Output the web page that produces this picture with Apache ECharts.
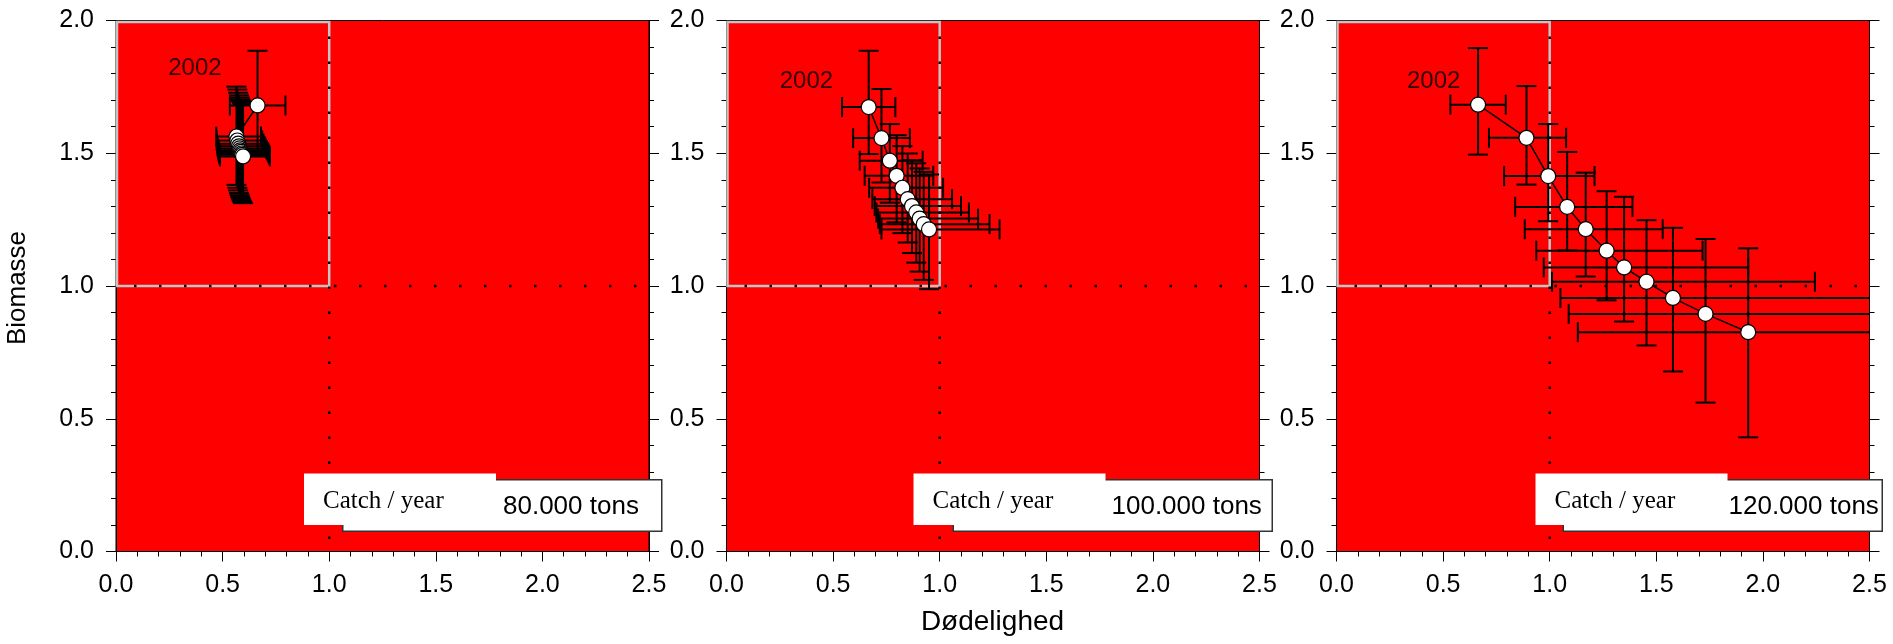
<!DOCTYPE html>
<html>
<head>
<meta charset="utf-8">
<script src="https://cdn.jsdelivr.net/npm/echarts@6/dist/echarts.min.js"></script>
<style>
html,body{margin:0;padding:0;background:#fff;}
#chart{width:1893px;height:644px;}
</style>
</head>
<body>
<div id="chart"></div>
<script>
// ---- data ----
const YEAR_LABEL = '2002';
const CATCH_LABEL = 'Catch / year';
const PANEL_LABELS = ['80.000 tons', '100.000 tons', '120.000 tons'];
const X_TITLE = 'Dødelighed';
const Y_TITLE = 'Biomasse';
const X_TICKS = [0.0, 0.5, 1.0, 1.5, 2.0, 2.5];
const Y_TICKS = [0.0, 0.5, 1.0, 1.5, 2.0];
const REF_F = 1.0;   // reference mortality
const REF_B = 1.0;   // reference biomass

// 80.000 tons
const F_80    = [0.664, 0.565, 0.569, 0.573, 0.577, 0.580, 0.583, 0.586, 0.589, 0.592, 0.596];
const B_80    = [1.680, 1.563, 1.548, 1.536, 1.526, 1.518, 1.511, 1.505, 1.499, 1.494, 1.488];
const F_80_LO = [0.534, 0.470, 0.472, 0.474, 0.476, 0.478, 0.480, 0.482, 0.484, 0.486, 0.488];
const F_80_HI = [0.795, 0.680, 0.686, 0.692, 0.698, 0.703, 0.708, 0.712, 0.716, 0.719, 0.722];
const B_80_LO = [1.495, 1.381, 1.370, 1.360, 1.350, 1.342, 1.335, 1.328, 1.322, 1.317, 1.312];
const B_80_HI = [1.886, 1.751, 1.740, 1.728, 1.718, 1.710, 1.703, 1.697, 1.692, 1.688, 1.684];

// 100.000 tons
const F_100    = [0.667, 0.727, 0.766, 0.798, 0.825, 0.850, 0.870, 0.890, 0.906, 0.925, 0.950];
const B_100    = [1.674, 1.557, 1.472, 1.415, 1.370, 1.327, 1.301, 1.277, 1.254, 1.233, 1.213];
const F_100_LO = [0.542, 0.594, 0.625, 0.648, 0.669, 0.684, 0.695, 0.703, 0.711, 0.719, 0.727];
const F_100_HI = [0.792, 0.860, 0.920, 0.970, 1.016, 1.058, 1.100, 1.137, 1.180, 1.234, 1.281];
const B_100_LO = [1.497, 1.390, 1.314, 1.240, 1.199, 1.164, 1.124, 1.088, 1.054, 1.023, 0.988];
const B_100_HI = [1.886, 1.742, 1.610, 1.568, 1.527, 1.499, 1.474, 1.462, 1.443, 1.430, 1.420];

// 120.000 tons
const F_120    = [0.664, 0.891, 0.993, 1.082, 1.169, 1.267, 1.349, 1.454, 1.578, 1.731, 1.931];
const B_120    = [1.683, 1.558, 1.414, 1.298, 1.214, 1.133, 1.070, 1.016, 0.955, 0.895, 0.826];
const F_120_LO = [0.534, 0.715, 0.786, 0.838, 0.883, 0.937, 0.972, 1.011, 1.050, 1.089, 1.132];
const F_120_HI = [0.794, 1.077, 1.210, 1.388, 1.530, 1.717, 1.931, 2.244, 2.700, 2.950, 3.300];
const B_120_LO = [1.495, 1.382, 1.244, 1.134, 1.036, 0.946, 0.866, 0.776, 0.678, 0.561, 0.430];
const B_120_HI = [1.896, 1.753, 1.610, 1.505, 1.427, 1.357, 1.336, 1.248, 1.219, 1.177, 1.142];

const PANELS = [
  {F: F_80,  B: B_80,  FLo: F_80_LO,  FHi: F_80_HI,  BLo: B_80_LO,  BHi: B_80_HI},
  {F: F_100, B: B_100, FLo: F_100_LO, FHi: F_100_HI, BLo: B_100_LO, BHi: B_100_HI},
  {F: F_120, B: B_120, FLo: F_120_LO, FHi: F_120_HI, BLo: B_120_LO, BHi: B_120_HI}
];

// ---- layout (pixels / positions, not data) ----
const GRID_LEFT = [116, 726.5, 1336.5];
const GRID_TOP = 20.5, GRID_W = 533, GRID_H = 531;
const YEAR_POS = [[0.37, 1.818], [0.375, 1.772], [0.456, 1.77]];
const WHITE_BOX_X = [188, 187, 199];
const VALUE_TEXT_X = [387, 385, 392];
const SANS = 'Liberation Sans, Arial, sans-serif';
const SERIF = 'Liberation Serif, Times New Roman, serif';

const chart = echarts.init(document.getElementById('chart'), null, {renderer: 'canvas'});

const grids = [], xAxes = [], yAxes = [], series = [], graphics = [];
const fmt = v => (Math.round(v * 10) / 10).toFixed(1);

PANELS.forEach((p, i) => {
  grids.push({left: GRID_LEFT[i], top: GRID_TOP, width: GRID_W, height: GRID_H,
    show: true, backgroundColor: '#ff0000', borderColor: '#000', borderWidth: 1});
  xAxes.push({gridIndex: i, type: 'value', min: X_TICKS[0], max: X_TICKS[X_TICKS.length - 1], interval: 0.5,
    axisLine: {show: true, onZero: false, lineStyle: {color: '#000', width: 1}},
    axisTick: {show: true, length: 10, lineStyle: {color: '#000', width: 1}},
    minorTick: {show: true, splitNumber: 5, length: 5, lineStyle: {color: '#000', width: 1}},
    splitLine: {show: false}, minorSplitLine: {show: false},
    axisLabel: {fontSize: 25, fontFamily: SANS, color: '#000', margin: 21, formatter: fmt}});
});
PANELS.forEach((p, i) => {
  yAxes.push({gridIndex: i, type: 'value', position: 'left', min: Y_TICKS[0], max: Y_TICKS[Y_TICKS.length - 1], interval: 0.5,
    axisLine: {show: true, onZero: false, lineStyle: {color: '#000', width: 1}},
    axisTick: {show: true, length: 10, lineStyle: {color: '#000', width: 1}},
    minorTick: {show: true, splitNumber: 5, length: 5, lineStyle: {color: '#000', width: 1}},
    splitLine: {show: false}, minorSplitLine: {show: false},
    axisLabel: {fontSize: 25, fontFamily: SANS, color: '#000', margin: 22, formatter: fmt}});
});
PANELS.forEach((p, i) => {
  yAxes.push({gridIndex: i, type: 'value', position: 'right', min: Y_TICKS[0], max: Y_TICKS[Y_TICKS.length - 1], interval: 0.5,
    axisLine: {show: true, onZero: false, lineStyle: {color: '#000', width: 1}},
    axisTick: {show: true, length: 10, lineStyle: {color: '#000', width: 1}},
    minorTick: {show: true, splitNumber: 5, length: 5, lineStyle: {color: '#000', width: 1}},
    splitLine: {show: false}, minorSplitLine: {show: false},
    axisLabel: {show: false}});
});

function renderRefs(params, api) {
  const cs = params.coordSys;
  const f = api.value(0), b = api.value(1);
  const p00 = api.coord([0, b]);
  const p1 = api.coord([f, Y_TICKS[Y_TICKS.length - 1]]);
  const pf = api.coord([f, b]);
  const gray = {stroke: '#c4c4c4', lineWidth: 2.5, fill: null};
  const dots = {stroke: '#000', lineWidth: 2.5, lineDash: [2.5, 22.5]};
  return {type: 'group', children: [
    {type: 'rect', shape: {x: p00[0] + 1, y: p1[1] + 1.5, width: pf[0] - p00[0] - 1, height: p00[1] - p1[1] - 1.5}, style: gray},
    {type: 'line', shape: {x1: cs.x + 18, y1: pf[1], x2: cs.x + cs.width, y2: pf[1]}, style: dots},
    {type: 'line', shape: {x1: pf[0], y1: cs.y + 16, x2: pf[0], y2: cs.y + cs.height}, style: dots}
  ]};
}

function renderErr(params, api) {
  const cs = params.coordSys;
  const x = api.value(0), y = api.value(1);
  const p = api.coord([x, y]);
  const xl = api.coord([api.value(2), y])[0], xh = api.coord([api.value(3), y])[0];
  const yl = api.coord([x, api.value(4)])[1], yh = api.coord([x, api.value(5)])[1];
  const xmin = cs.x, xmax = cs.x + cs.width;
  const cap = 10;
  const style = {stroke: '#000', lineWidth: 2};
  const L = (x1, y1, x2, y2) => ({type: 'line', shape: {x1, y1, x2, y2}, style});
  const ch = [];
  ch.push(L(Math.max(xl, xmin), p[1], Math.min(xh, xmax), p[1]));
  if (xl >= xmin) ch.push(L(xl, p[1] - cap, xl, p[1] + cap));
  if (xh <= xmax) ch.push(L(xh, p[1] - cap, xh, p[1] + cap));
  ch.push(L(p[0], yh, p[0], yl));
  ch.push(L(p[0] - cap, yh, p[0] + cap, yh));
  ch.push(L(p[0] - cap, yl, p[0] + cap, yl));
  return {type: 'group', children: ch};
}

PANELS.forEach((p, i) => {
  series.push({type: 'custom', xAxisIndex: i, yAxisIndex: i, renderItem: renderRefs,
    data: [[REF_F, REF_B]], silent: true, z: 1});
  series.push({type: 'custom', xAxisIndex: i, yAxisIndex: i, renderItem: renderErr,
    data: p.F.map((f, k) => [f, p.B[k], p.FLo[k], p.FHi[k], p.BLo[k], p.BHi[k]]),
    silent: true, z: 2});
  series.push({type: 'line', xAxisIndex: i, yAxisIndex: i,
    data: p.F.map((f, k) => [f, p.B[k]]),
    symbol: 'circle', symbolSize: 15, showAllSymbol: true,
    lineStyle: {color: '#000', width: 1.5},
    itemStyle: {color: '#fff', borderColor: '#000', borderWidth: 1.2},
    silent: true, z: 3, animation: false});
  series.push({type: 'scatter', xAxisIndex: i, yAxisIndex: i, data: [YEAR_POS[i]],
    symbolSize: 1, itemStyle: {color: 'rgba(0,0,0,0)'}, silent: true, z: 4,
    label: {show: true, position: 'inside', formatter: YEAR_LABEL, fontSize: 24, fontFamily: SANS, color: '#000'}});

  const gl = GRID_LEFT[i];
  graphics.push({type: 'rect', left: gl + 226, top: 479, shape: {width: 545 - 226, height: 51.5},
    style: {fill: '#fff', stroke: '#333', lineWidth: 1.5}, z: 100});
  graphics.push({type: 'rect', left: gl + WHITE_BOX_X[i], top: 473.5, shape: {width: 192, height: 51.5},
    style: {fill: '#fff'}, z: 101});
  graphics.push({type: 'text', x: gl + WHITE_BOX_X[i] + 19, y: 501, z: 102,
    style: {text: CATCH_LABEL, font: '25px ' + SERIF, fill: '#000', textVerticalAlign: 'middle', textAlign: 'left'}});
  graphics.push({type: 'text', x: gl + VALUE_TEXT_X[i], y: 507, z: 102,
    style: {text: PANEL_LABELS[i], font: '26px ' + SANS, fill: '#000', textVerticalAlign: 'middle', textAlign: 'left'}});
});

graphics.push({type: 'text', x: 992.5, y: 622, z: 102,
  style: {text: X_TITLE, font: '28px ' + SANS, fill: '#000', textAlign: 'center', textVerticalAlign: 'middle'}});
graphics.push({type: 'text', x: 18, y: 288, rotation: Math.PI / 2, z: 102,
  style: {text: Y_TITLE, font: '26px ' + SANS, fill: '#000', textAlign: 'center', textVerticalAlign: 'middle'}});

chart.setOption({
  animation: false,
  backgroundColor: '#fff',
  grid: grids, xAxis: xAxes, yAxis: yAxes, series: series, graphic: graphics
});
</script>
</body>
</html>
